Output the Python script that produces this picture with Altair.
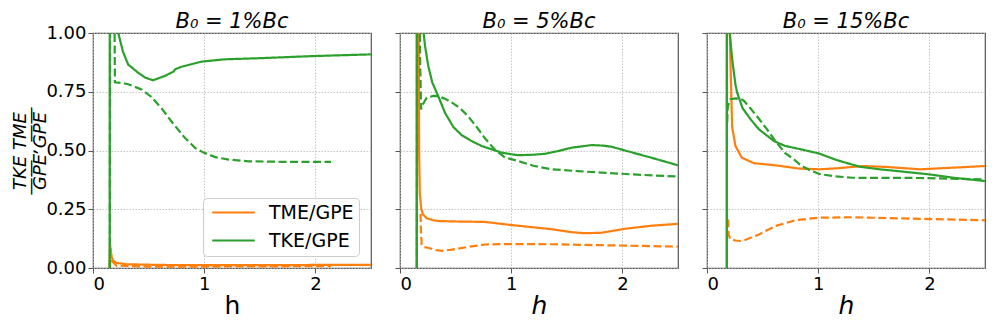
import altair as alt
import pandas as pd

X_TICKS = [0, 1, 2]
Y_TICKS = [0, 0.25, 0.5, 0.75, 1.0]
QUANTITIES = ["TME/GPE", "TKE/GPE"]
COLORS = ["#ff7f0e", "#2ca02c"]
RUNS = ["solid", "dashed"]
PANEL_TITLES = ["B₀ = 1%Bc", "B₀ = 5%Bc", "B₀ = 15%Bc"]
Y_TITLE = ["TKE    TME", "——  ,  ——", "GPE    GPE"]

# ---- panel 1 : B0 = 1% Bc ----
p1_tme_solid_x = [0.148, 0.153, 0.165, 0.18, 0.21, 0.30, 0.60, 1.0, 1.5, 2.0, 2.5]
p1_tme_solid_y = [0.0, 0.10, 0.05, 0.032, 0.022, 0.016, 0.013, 0.012, 0.012, 0.013, 0.013]
p1_tme_dash_x = [0.152, 0.156, 0.17, 0.21, 0.5, 1.0, 1.5, 2.14]
p1_tme_dash_y = [0.0, 0.09, 0.03, 0.01, 0.006, 0.006, 0.007, 0.008]
p1_tke_solid_x = [0.150, 0.153, 0.20, 0.227, 0.27, 0.316, 0.406, 0.47, 0.54, 0.645, 0.725,
                  0.74, 0.80, 0.974, 1.183, 1.51, 1.99, 2.5]
p1_tke_solid_y = [0.0, 6.0, 1.5, 1.0, 0.92, 0.866, 0.831, 0.81, 0.799, 0.817, 0.836,
                  0.846, 0.857, 0.878, 0.888, 0.893, 0.902, 0.909]
p1_tke_dash_x = [0.152, 0.16, 0.192, 0.197, 0.26, 0.316, 0.436, 0.52, 0.615, 0.72, 0.824,
                 0.92, 1.0, 1.1, 1.21, 1.4, 1.7, 2.14]
p1_tke_dash_y = [0.0, 5.0, 1.2, 0.79, 0.787, 0.782, 0.76, 0.73, 0.68, 0.615, 0.555,
                 0.51, 0.49, 0.472, 0.462, 0.454, 0.452, 0.452]

# ---- panel 2 : B0 = 5% Bc ----
p2_tme_solid_x = [0.152, 0.156, 0.165, 0.172, 0.178, 0.19, 0.205, 0.24, 0.30, 0.345, 0.50,
                  0.764, 1.0, 1.364, 1.55, 1.664, 1.814, 2.023, 2.263, 2.5]
p2_tme_solid_y = [0.0, 5.0, 1.5, 0.5, 0.32, 0.255, 0.228, 0.212, 0.203, 0.20, 0.198,
                  0.196, 0.183, 0.165, 0.152, 0.148, 0.15, 0.167, 0.18, 0.188]
p2_tme_dash_x = [0.185, 0.188, 0.195, 0.21, 0.252, 0.315, 0.375, 0.465, 0.614, 0.764, 1.0,
                 1.364, 1.814, 2.5]
p2_tme_dash_y = [0.23, 0.16, 0.10, 0.09, 0.086, 0.077, 0.073, 0.078, 0.09, 0.10, 0.102,
                 0.101, 0.097, 0.091]
p2_tke_solid_x = [0.150, 0.154, 0.19, 0.212, 0.225, 0.254, 0.29, 0.345, 0.405, 0.48, 0.555,
                  0.645, 0.735, 0.825, 0.914, 1.0, 1.064, 1.2, 1.304, 1.424, 1.544, 1.724,
                  1.82, 1.904, 2.023, 2.263, 2.5]
p2_tke_solid_y = [0.0, 6.0, 1.5, 1.0, 0.945, 0.86, 0.79, 0.73, 0.66, 0.60, 0.565,
                  0.54, 0.519, 0.505, 0.491, 0.484, 0.48, 0.482, 0.486, 0.498, 0.512, 0.523,
                  0.521, 0.516, 0.50, 0.469, 0.437]
p2_tke_dash_x = [0.152, 0.158, 0.172, 0.18, 0.19, 0.21, 0.24, 0.30, 0.345, 0.405, 0.465,
                 0.54, 0.614, 0.69, 0.764, 0.85, 0.944, 1.064, 1.2, 1.364, 1.6, 1.814, 2.1, 2.5]
p2_tke_dash_y = [0.0, 5.0, 1.5, 0.9, 0.675, 0.70, 0.725, 0.732, 0.731, 0.72, 0.705,
                 0.68, 0.645, 0.60, 0.552, 0.505, 0.47, 0.455, 0.435, 0.42, 0.412, 0.406, 0.398, 0.389]

# ---- panel 3 : B0 = 15% Bc ----
p3_tme_solid_x = [0.178, 0.181, 0.20, 0.205, 0.215, 0.226, 0.256, 0.314, 0.422, 0.618, 0.829,
                  1.01, 1.161, 1.403, 1.614, 1.915, 2.217, 2.5]
p3_tme_solid_y = [0.0, 6.0, 1.5, 1.0, 0.8, 0.6, 0.519, 0.469, 0.446, 0.437, 0.423,
                  0.42, 0.424, 0.434, 0.43, 0.42, 0.427, 0.434]
p3_tme_dash_x = [0.19, 0.195, 0.211, 0.256, 0.301, 0.347, 0.467, 0.618, 0.799, 1.01, 1.312,
                 1.764, 2.5]
p3_tme_dash_y = [0.207, 0.14, 0.122, 0.117, 0.115, 0.12, 0.143, 0.179, 0.204, 0.214, 0.216,
                 0.211, 0.203]
p3_tke_solid_x = [0.178, 0.181, 0.195, 0.205, 0.226, 0.256, 0.271, 0.32, 0.392, 0.467, 0.603,
                  0.70, 0.844, 1.01, 1.161, 1.372, 1.553, 1.764, 2.005, 2.217, 2.5]
p3_tke_solid_y = [0.0, 6.0, 1.5, 1.0, 0.89, 0.78, 0.746, 0.68, 0.633, 0.59, 0.54,
                  0.52, 0.505, 0.487, 0.46, 0.431, 0.42, 0.41, 0.398, 0.384, 0.37]
p3_tke_dash_x = [0.182, 0.186, 0.195, 0.211, 0.256, 0.30, 0.331, 0.39, 0.467, 0.54, 0.60,
                 0.70, 0.76, 0.85, 0.93, 1.01, 1.15, 1.312, 1.915, 2.5]
p3_tke_dash_y = [0.62, 0.68, 0.70, 0.718, 0.722, 0.72, 0.712, 0.68, 0.635, 0.59, 0.55,
                 0.49, 0.47, 0.435, 0.415, 0.40, 0.39, 0.384, 0.383, 0.377]

PANELS = [
    [(p1_tme_solid_x, p1_tme_solid_y, 0, 0), (p1_tme_dash_x, p1_tme_dash_y, 0, 1),
     (p1_tke_solid_x, p1_tke_solid_y, 1, 0), (p1_tke_dash_x, p1_tke_dash_y, 1, 1)],
    [(p2_tme_solid_x, p2_tme_solid_y, 0, 0), (p2_tme_dash_x, p2_tme_dash_y, 0, 1),
     (p2_tke_solid_x, p2_tke_solid_y, 1, 0), (p2_tke_dash_x, p2_tke_dash_y, 1, 1)],
    [(p3_tme_solid_x, p3_tme_solid_y, 0, 0), (p3_tme_dash_x, p3_tme_dash_y, 0, 1),
     (p3_tke_solid_x, p3_tke_solid_y, 1, 0), (p3_tke_dash_x, p3_tke_dash_y, 1, 1)],
]


def make_df(series):
    rows = []
    for k, (xs, ys, q, r) in enumerate(series):
        for i, (x, y) in enumerate(zip(xs, ys)):
            rows.append({"h": x, "v": y, "quantity": QUANTITIES[q], "run": RUNS[r],
                         "series": k, "idx": i})
    return pd.DataFrame(rows)


def panel(i):
    df = make_df(PANELS[i])
    first = i == 0
    legend = alt.Legend(
        title=None, orient="bottom-right", offset=12, symbolType="M-2.5,0L2.5,0",
        symbolStrokeWidth=2, symbolSize=289, labelFontSize=19, labelFont="DejaVu Sans",
        padding=5, cornerRadius=4, strokeColor="#cccccc", fillColor="rgba(255,255,255,0.85)",
        rowPadding=8, labelOffset=26, symbolOffset=16,
    ) if first else None
    y_axis = alt.Axis(
        values=Y_TICKS, format=".2f", labels=first,
        title=Y_TITLE if first else None,
        titleFontSize=18, titleFontStyle="italic", titleFontWeight="normal",
        titleLineHeight=10, titlePadding=-4, titleFont="DejaVu Sans",
    )
    x_axis = alt.Axis(
        values=X_TICKS, format="d", title="h", titleFontSize=25,
        titleFontStyle="normal" if first else "italic", titleFontWeight="normal",
        titlePadding=0, titleFont="DejaVu Sans",
    )
    title = alt.TitleParams(PANEL_TITLES[i], offset=-8 if first else 1)
    return alt.Chart(df).mark_line(clip=True, strokeWidth=2.2).encode(
        x=alt.X("h:Q", scale=alt.Scale(domain=[0, 2.5], nice=False, zero=False), axis=x_axis),
        y=alt.Y("v:Q", scale=alt.Scale(domain=[0, 1], nice=False), axis=y_axis),
        color=alt.Color("quantity:N", scale=alt.Scale(domain=QUANTITIES, range=COLORS),
                        legend=legend),
        strokeDash=alt.StrokeDash("run:N", scale=alt.Scale(domain=RUNS, range=[[1, 0], [8, 3.5]]),
                                  legend=None),
        detail="series:N",
        order="idx:Q",
    ).properties(width=278, height=235, title=title)


chart = alt.hconcat(panel(0), panel(1), panel(2), spacing=29, bounds="flush").resolve_scale(
    color="independent", strokeDash="independent"
).resolve_legend(color="independent", strokeDash="independent").properties(
    padding={"left": 3, "top": 1, "right": 0, "bottom": 0}
).configure_view(
    stroke="#555555", strokeWidth=1.2
).configure_axis(
    domain=False, grid=True, gridColor="#b8b8b8", gridDash=[1.5, 1.5], gridWidth=0.8,
    tickColor="#555555", tickSize=5, tickWidth=1, labelFontSize=18, labelColor="black",
    labelFont="DejaVu Sans", labelPadding=2, titleColor="black",
).configure_title(
    fontSize=21, font="DejaVu Sans", fontWeight="normal", fontStyle="italic",
    color="black",
)

chart.save("out.html", embed_options={"renderer": "svg", "actions": False})
